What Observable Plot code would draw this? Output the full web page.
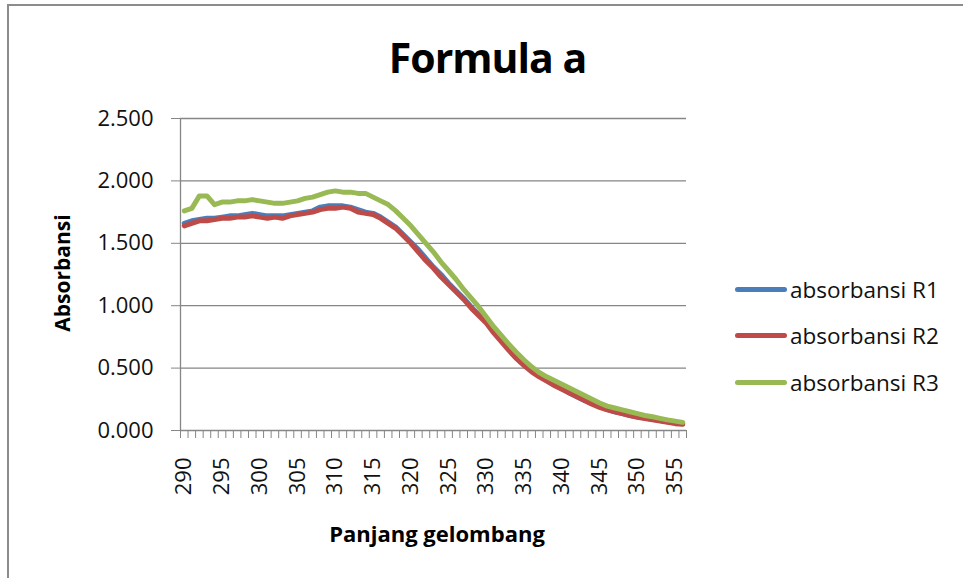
<!DOCTYPE html>
<html>
<head>
<meta charset="utf-8">
<script src="https://cdn.jsdelivr.net/npm/d3@7"></script>
<script src="https://cdn.jsdelivr.net/npm/@observablehq/plot@0.6"></script>
<style>
  html, body { margin: 0; padding: 0; background: #fff; overflow: hidden; }
  #wrap { position: relative; width: 963px; height: 578px; overflow: hidden; font-family: "Open Sans", sans-serif; }
  #frame { position: absolute; left: 7px; top: 4px; width: 1000px; height: 620px; border: 2px solid #8c8c8c; box-sizing: border-box; pointer-events: none; }
  #title { position: absolute; left: 0; width: 975px; top: 29px; text-align: center; font-weight: 700; font-size: 41px; letter-spacing: -1px; color: #000; }
  #ytitle { position: absolute; left: 62px; top: 273px; transform: translate(-50%, -50%) rotate(-90deg); font-weight: 700; font-size: 21px; white-space: nowrap; color: #000; }
  #xtitle { position: absolute; left: 437px; top: 533px; transform: translate(-50%, -50%); font-weight: 700; font-size: 22px; white-space: nowrap; color: #000; }
  #legend { position: absolute; left: 735px; top: 266px; }
  .lg { display: flex; align-items: center; height: 46.5px; font-size: 22.5px; color: #111; }
  .sw { width: 52px; height: 5px; border-radius: 2.5px; margin-right: 3px; }
  #chart { position: absolute; left: 0; top: 0; }
</style>
</head>
<body>
<div id="wrap">
  <div id="chart"></div>
  <div id="frame"></div>
  <div id="title">Formula a</div>
  <div id="ytitle">Absorbansi</div>
  <div id="xtitle">Panjang gelombang</div>
  <div id="legend"></div>
</div>
<script>
const wavelengths = [290,291,292,293,294,295,296,297,298,299,300,301,302,303,304,305,306,307,308,309,310,311,312,313,314,315,316,317,318,319,320,321,322,323,324,325,326,327,328,329,330,331,332,333,334,335,336,337,338,339,340,341,342,343,344,345,346,347,348,349,350,351,352,353,354,355,356];

const seriesNames = ["absorbansi R1", "absorbansi R2", "absorbansi R3"];
const seriesColors = ["#4a7ebb", "#be4b48", "#98b954"];

const r1 = [1.66,1.68,1.69,1.70,1.70,1.71,1.72,1.72,1.73,1.74,1.73,1.72,1.72,1.72,1.73,1.74,1.75,1.76,1.79,1.80,1.80,1.80,1.79,1.77,1.75,1.74,1.71,1.67,1.63,1.57,1.51,1.45,1.38,1.31,1.25,1.18,1.12,1.06,0.99,0.93,0.87,0.79,0.72,0.65,0.58,0.525,0.48,0.44,0.40,0.365,0.335,0.30,0.27,0.24,0.215,0.19,0.17,0.15,0.135,0.12,0.11,0.10,0.09,0.08,0.07,0.06,0.055];

const r2 = [1.64,1.66,1.68,1.68,1.69,1.70,1.70,1.71,1.71,1.72,1.71,1.70,1.71,1.70,1.72,1.73,1.74,1.75,1.77,1.78,1.78,1.79,1.78,1.75,1.74,1.73,1.70,1.66,1.62,1.56,1.50,1.43,1.36,1.30,1.23,1.17,1.11,1.05,0.98,0.92,0.86,0.78,0.71,0.64,0.575,0.52,0.47,0.43,0.395,0.36,0.33,0.30,0.27,0.24,0.21,0.185,0.165,0.15,0.135,0.12,0.105,0.095,0.085,0.075,0.065,0.055,0.05];

const r3 = [1.76,1.78,1.88,1.88,1.81,1.83,1.83,1.84,1.84,1.85,1.84,1.83,1.82,1.82,1.83,1.84,1.86,1.87,1.89,1.91,1.92,1.91,1.91,1.90,1.90,1.87,1.84,1.81,1.76,1.70,1.64,1.57,1.50,1.43,1.35,1.28,1.21,1.13,1.06,0.99,0.91,0.83,0.76,0.69,0.625,0.565,0.51,0.465,0.43,0.40,0.37,0.34,0.31,0.28,0.25,0.22,0.195,0.18,0.165,0.15,0.135,0.12,0.11,0.097,0.085,0.075,0.065];

const yTicks = [0, 0.5, 1.0, 1.5, 2.0, 2.5];
const xLabelTicks = [290,295,300,305,310,315,320,325,330,335,340,345,350,355];

const seriesValues = [r1, r2, r3];
const table = [];
seriesNames.forEach((name, i) => {
  wavelengths.forEach((w, j) => table.push({w, v: seriesValues[i][j], series: name}));
});

const xMin = wavelengths[0] - 0.5;
const xMax = wavelengths[wavelengths.length - 1] + 0.5;
const boundaries = wavelengths.map(w => w - 0.5).concat([xMax]);

const gray = "#868686";

const chart = Plot.plot({
  width: 963,
  height: 578,
  marginLeft: 180,
  marginRight: 277,
  marginTop: 118,
  marginBottom: 148,
  style: { fontFamily: "Open Sans, sans-serif", background: "transparent", color: "#111" },
  x: { domain: [xMin, xMax] },
  y: { domain: [0, 2.5] },
  color: { domain: seriesNames, range: seriesColors },
  marks: [
    Plot.gridY(yTicks.filter(t => t > 0), { stroke: gray, strokeOpacity: 1, strokeWidth: 1.3 }),
    Plot.ruleY([0], { stroke: gray, strokeWidth: 1.3 }),
    Plot.ruleX([xMin], { stroke: gray, strokeWidth: 1.3 }),
    Plot.axisY({ ticks: yTicks, tickFormat: d3.format(".3f"), tickSize: 9, tickPadding: 18, stroke: gray, fill: "#111", fontSize: 22, label: null }),
    Plot.axisX({ ticks: boundaries, tickFormat: () => "", tickSize: 8, stroke: gray, label: null }),
    Plot.axisX({ ticks: xLabelTicks, tickFormat: d => String(d), tickSize: 0, tickPadding: 27, tickRotate: -90, fontSize: 22, fill: "#111", label: null }),
    Plot.line(table, { x: "w", y: "v", stroke: "series", z: "series", strokeWidth: 5, strokeLinejoin: "round", strokeLinecap: "round" })
  ]
});
document.getElementById("chart").appendChild(chart);

const legend = document.getElementById("legend");
seriesNames.forEach((name, i) => {
  const row = document.createElement("div");
  row.className = "lg";
  const sw = document.createElement("div");
  sw.className = "sw";
  sw.style.background = seriesColors[i];
  const t = document.createElement("span");
  t.textContent = name;
  row.appendChild(sw);
  row.appendChild(t);
  legend.appendChild(row);
});
</script>
</body>
</html>
